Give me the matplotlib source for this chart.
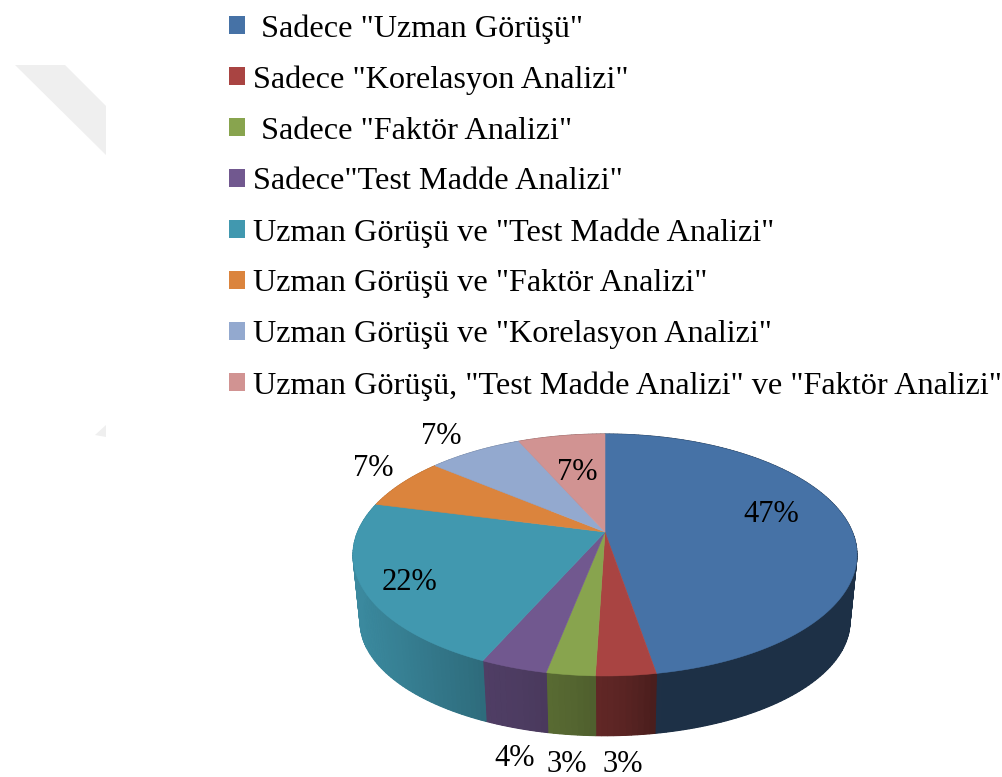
import numpy as np
import matplotlib
matplotlib.use('Agg')
import matplotlib.pyplot as plt
from matplotlib.patches import Patch

plt.rcParams['font.family'] = ['Liberation Serif', 'DejaVu Serif']

labels = [' Sadece "Uzman Görüşü"', 'Sadece "Korelasyon Analizi"', ' Sadece "Faktör Analizi"',
          'Sadece"Test Madde Analizi"', 'Uzman Görüşü ve "Test Madde Analizi"',
          'Uzman Görüşü ve "Faktör Analizi"', 'Uzman Görüşü ve "Korelasyon Analizi"',
          'Uzman Görüşü, "Test Madde Analizi" ve "Faktör Analizi"']
values = [47.3, 3.2, 2.6, 3.6, 22.3, 7.0, 7.3, 6.7]
colors = ['#4672A6', '#A94442', '#88A44E', '#71588F', '#4198AF', '#DB843D', '#93A9CF', '#D19392']

# label positions, one per slice
label_xy = [(771, 515), (623, 764), (567, 764), (515, 759), (410, 582), (373, 468), (441, 437), (577, 472)]

# tilted pie geometry in pixels
apex_x, apex_y = 605, 532
a, b, k = 247.4, 116.6, 0.19
side_dy, side_sx, side_sy = 68, 0.972, 0.943


def project(theta):
    # theta clockwise from the top, perspective view of the unit circle
    x = np.sin(theta)
    y = np.cos(theta)
    w = 1 + k * y
    return a * x / w, b * y / w


def darken(color, f):
    rgb = np.array(matplotlib.colors.to_rgb(color))
    return tuple(rgb * f)


def side_shade(x):
    return np.interp(x, [360, 487, 520, 570, 625, 660], [0.9, 0.7, 0.68, 0.62, 0.53, 0.42])


fig = plt.figure(figsize=(10.03, 7.77), dpi=100)
ax = fig.add_axes([0, 0, 1, 1])
ax.set_xlim(0, 1003)
ax.set_ylim(777, 0)
ax.axis('off')

# faint watermark remains
ax.fill([15, 65, 106, 106], [65, 65, 106, 155], color='#EFEFEF', lw=0)
ax.fill([95, 106, 106], [435, 425, 437], color='#EFEFEF', lw=0)

edges = np.cumsum([0] + values) / sum(values) * 2 * np.pi

# sides first, the top covers the hidden part
for i, c in enumerate(colors):
    n = max(int((edges[i + 1] - edges[i]) / 0.02), 2)
    t = np.linspace(edges[i], edges[i + 1], n + 1)
    X, Y = project(t)
    x_top = apex_x + X
    y_top = apex_y - Y
    x_bot = apex_x + side_sx * X
    y_bot = apex_y + side_dy - side_sy * Y
    ax.fill(np.r_[x_top, x_bot[::-1]], np.r_[y_top, y_bot[::-1]],
            color=darken(c, side_shade(x_top.mean())), lw=0)
    for j in range(n):
        sc = darken(c, side_shade((x_top[j] + x_top[j + 1]) / 2))
        ax.fill([x_top[j], x_top[j + 1], x_bot[j + 1], x_bot[j]],
                [y_top[j], y_top[j + 1], y_bot[j + 1], y_bot[j]],
                facecolor=sc, edgecolor=sc, lw=0.8)

# top of the pie
for i, c in enumerate(colors):
    t = np.linspace(edges[i], edges[i + 1], 120)
    X, Y = project(t)
    ax.fill(np.r_[apex_x, apex_x + X], np.r_[apex_y, apex_y - Y], facecolor=c, edgecolor=c, lw=0.4)

for v, (lx, ly) in zip(values, label_xy):
    ax.text(lx, ly, '{:.0f}%'.format(v), fontsize=22, ha='center', va='center', color='black')

handles = [Patch(facecolor=c, edgecolor='none') for c in colors]
ax.legend(handles, labels, loc='upper left', bbox_to_anchor=(229 / 1003, 1 - 14 / 777), frameon=False,
          fontsize=23.25, handlelength=0.495, handleheight=0.495, handletextpad=0.25,
          labelspacing=0.675, borderpad=0, borderaxespad=0)

plt.savefig('out.png', dpi=100)
plt.close()
